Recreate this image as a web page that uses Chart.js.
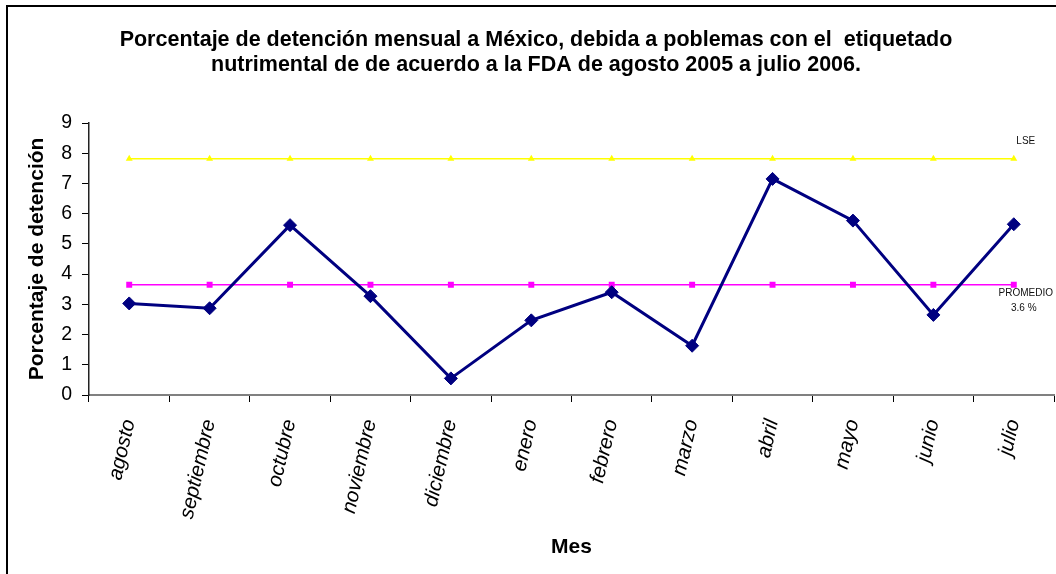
<!DOCTYPE html>
<html lang="es">
<head>
<meta charset="utf-8">
<title>Porcentaje de detención mensual</title>
<script src="https://cdn.jsdelivr.net/npm/chart.js@4/dist/chart.umd.min.js"></script>
<style>
  html, body { margin: 0; padding: 0; background: #fff; overflow: hidden; }
  .frame {
    position: absolute;
    left: 6px;
    top: 5px;
    width: 1200px;
    height: 700px;
    border-left: 2px solid #000;
    border-top: 2px solid #000;
  }
  #chart { position: absolute; left: 0; top: 0; }
</style>
</head>
<body>
<div class="frame"></div>
<canvas id="chart" width="1056" height="574"></canvas>
<script>
const months = ['agosto', 'septiembre', 'octubre', 'noviembre', 'diciembre', 'enero',
  'febrero', 'marzo', 'abril', 'mayo', 'junio', 'julio'];

// % de detención por mes
const detention = [3.03, 2.87, 5.62, 3.27, 0.55, 2.47, 3.4, 1.63, 7.15, 5.77, 2.65, 5.65];

// límite superior y promedio
const lseLine = [7.82, 7.82, 7.82, 7.82, 7.82, 7.82, 7.82, 7.82, 7.82, 7.82, 7.82, 7.82];
const averageLine = [3.65, 3.65, 3.65, 3.65, 3.65, 3.65, 3.65, 3.65, 3.65, 3.65, 3.65, 3.65];

const yTicks = [0, 1, 2, 3, 4, 5, 6, 7, 8, 9];

const titleLines = [
  'Porcentaje de detención mensual a México, debida a poblemas con el  etiquetado',
  'nutrimental de de acuerdo a la FDA de agosto 2005 a julio 2006.',
];
const lseLabel = 'LSE';
const averageLabel = ['PROMEDIO', '3.6 %'];

const FONT = '"Liberation Sans", Arial, sans-serif';

const lineLabels = {
  id: 'lineLabels',
  afterDatasetsDraw(chart) {
    const { ctx, scales: { x, y } } = chart;
    const last = months.length - 1;
    const lastX = x.getPixelForValue(last);
    const lseY = y.getPixelForValue(lseLine[last]);
    const avgY = y.getPixelForValue(averageLine[last]);

    ctx.save();
    ctx.font = `10px ${FONT}`;
    ctx.fillStyle = '#111';
    ctx.textAlign = 'center';
    ctx.textBaseline = 'middle';
    ctx.fillText(lseLabel, lastX + 12, lseY - 17);
    ctx.fillText(averageLabel[0], lastX + 12, avgY + 9);
    ctx.fillText(averageLabel[1], lastX + 10, avgY + 24);
    ctx.restore();
  },
};

new Chart(document.querySelector('#chart'), {
  type: 'line',
  data: {
    labels: months,
    datasets: [
      {
        label: 'Detención',
        data: detention,
        borderColor: '#000080',
        backgroundColor: '#000080',
        borderWidth: 3,
        pointStyle: 'rectRot',
        pointRadius: 6.5,
        pointBorderWidth: 1,
        tension: 0,
      },
      {
        label: 'LSE',
        data: lseLine,
        borderColor: '#ffff00',
        backgroundColor: '#ffff00',
        borderWidth: 1.5,
        pointStyle: 'triangle',
        pointRadius: 4,
        pointBorderWidth: 0,
      },
      {
        label: 'Promedio',
        data: averageLine,
        borderColor: '#ff00ff',
        backgroundColor: '#ff00ff',
        borderWidth: 1.5,
        pointStyle: 'rect',
        pointRadius: 4.2,
        pointBorderWidth: 0,
      },
    ],
  },
  options: {
    responsive: false,
    animation: false,
    devicePixelRatio: 1,
    layout: { autoPadding: false, padding: { left: 18, right: 2, top: 0, bottom: 0 } },
    plugins: {
      legend: { display: false },
      tooltip: { enabled: false },
      title: {
        display: true,
        text: titleLines,
        color: '#000',
        font: { family: FONT, size: 21.5, weight: 'bold', lineHeight: '25px' },
        padding: { top: 27.5, bottom: 45.5 },
      },
    },
    scales: {
      x: {
        offset: true,
        grid: { offset: true, drawOnChartArea: false, color: '#000', tickLength: 7 },
        border: { color: '#808080', width: 2 },
        ticks: {
          color: '#000',
          autoSkip: false,
          minRotation: 77,
          maxRotation: 77,
          padding: 15,
          font: { family: FONT, size: 20.5, style: 'italic' },
        },
        title: {
          display: true,
          text: 'Mes',
          color: '#000',
          font: { family: FONT, size: 21, weight: 'bold', lineHeight: 1.2 },
          padding: { top: 0, bottom: 14 },
        },
        afterFit: (scale) => {
          scale.height = 179;
          // no extra room for the rotated end labels
          scale.paddingLeft = 0;
          scale.paddingRight = 0;
        },
      },
      y: {
        min: 0,
        max: 9,
        afterBuildTicks: (scale) => { scale.ticks = yTicks.map((v) => ({ value: v })); },
        grid: { drawOnChartArea: false, color: '#000', tickLength: 7 },
        border: { color: '#222', width: 1.5 },
        ticks: {
          color: '#000',
          padding: 10,
          font: { family: FONT, size: 19.5 },
        },
        title: {
          display: true,
          text: 'Porcentaje de detención',
          color: '#000',
          font: { family: FONT, size: 21, weight: 'bold', lineHeight: 1.2 },
          padding: { top: 7, bottom: 0 },
        },
        afterFit: (scale) => { scale.width = 71; },
      },
    },
  },
  plugins: [lineLabels],
});
</script>
</body>
</html>
